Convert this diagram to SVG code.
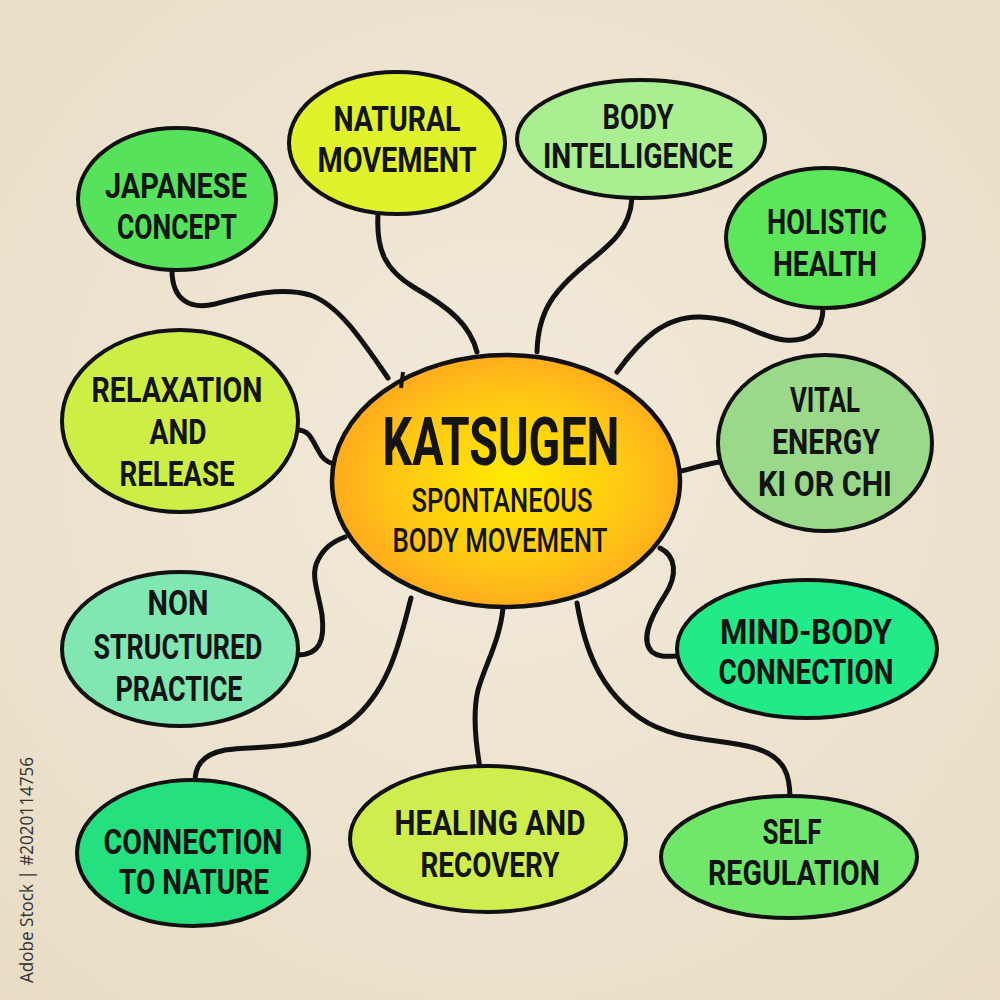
<svg xmlns="http://www.w3.org/2000/svg" width="1000" height="1000" viewBox="0 0 1000 1000">
<defs>
<radialGradient id="bg" cx="50%" cy="45%" r="75%">
<stop offset="0" stop-color="#f2eadb"/>
<stop offset="1" stop-color="#e8dcc4"/>
</radialGradient>
<radialGradient id="hub" cx="52%" cy="50%" r="60%">
<stop offset="0" stop-color="#ffec00"/>
<stop offset="0.55" stop-color="#ffc814"/>
<stop offset="1" stop-color="#ff9e22"/>
</radialGradient>
<style>
.n{stroke:#111;stroke-width:4}
.c path{fill:none;stroke:#111;stroke-width:5;stroke-linecap:round}
.t{font-family:"Roboto","Liberation Sans",sans-serif;font-weight:bold;fill:#141414;font-size:35px}
.big{font-size:66px}
.sub{font-size:33px;font-weight:500}
.wm{font-family:"Open Sans","Liberation Sans",sans-serif;fill:#333;font-size:18px}
</style>
</defs>
<rect width="1000" height="1000" fill="url(#bg)"/>
<text class="wm" transform="translate(33,983) rotate(-90)" textLength="226" lengthAdjust="spacingAndGlyphs">Adobe Stock | #2020114756</text>

<g id="connectors" class="c">
<path d="M172,270 C172,300 190,310 215,304 C245,296 280,286 310,295 C340,305 365,345 388,378"/>
<path d="M378,214 C376,250 385,270 415,288 C450,308 470,325 477,352"/>
<path d="M632,198 C630,230 610,245 585,265 C555,290 538,310 537,352"/>
<path d="M823,308 C823,330 810,342 785,340 C760,338 740,318 700,317 C665,316 640,340 617,372"/>
<path d="M297,430 C310,430 312,440 318,450 C322,458 326,462 334,464"/>
<path d="M297,655 C320,655 325,640 322,615 C318,590 310,575 318,560 C324,548 332,542 345,537"/>
<path d="M677,472 C695,468 705,464 720,462"/>
<path d="M660,548 C676,556 678,575 665,595 C650,618 640,640 652,652 C660,658 668,656 678,656"/>
<path d="M411,598 C400,640 390,690 350,722 C310,752 260,745 225,750 C200,755 195,768 195,782"/>
<path d="M503,608 C500,640 485,665 478,690 C472,715 476,745 480,768"/>
<path d="M577,603 C585,650 600,690 640,718 C675,742 720,738 755,748 C785,757 790,775 790,798"/>
</g>

<g id="hub-node">
<ellipse class="n" cx="506" cy="481" rx="174" ry="126" fill="url(#hub)" style="stroke-width:4.5"/>
<path d="M403,372 L401,388" stroke="#111" stroke-width="4" fill="none"/>
<text class="t big" x="501" y="465" text-anchor="middle" textLength="237" lengthAdjust="spacingAndGlyphs">KATSUGEN</text>
<text class="t sub" x="502" y="512" text-anchor="middle" textLength="181" lengthAdjust="spacingAndGlyphs">SPONTANEOUS</text>
<text class="t sub" x="500" y="552" text-anchor="middle" textLength="215" lengthAdjust="spacingAndGlyphs">BODY MOVEMENT</text>
</g>

<g id="japanese-concept">
<ellipse class="n" cx="177" cy="199" rx="99" ry="71" fill="#56e25a"/>
<text class="t" x="176" y="198" text-anchor="middle" textLength="142" lengthAdjust="spacingAndGlyphs">JAPANESE</text>
<text class="t" x="177" y="239" text-anchor="middle" textLength="120" lengthAdjust="spacingAndGlyphs">CONCEPT</text>
</g>

<g id="natural-movement">
<ellipse class="n" cx="397" cy="143" rx="108" ry="71" fill="#e0f22c"/>
<text class="t" x="397" y="131" text-anchor="middle" textLength="127" lengthAdjust="spacingAndGlyphs">NATURAL</text>
<text class="t" x="397" y="172" text-anchor="middle" textLength="159" lengthAdjust="spacingAndGlyphs">MOVEMENT</text>
</g>

<g id="body-intelligence">
<ellipse class="n" cx="641" cy="139" rx="124" ry="59" fill="#aaee92"/>
<text class="t" x="638" y="129" text-anchor="middle" textLength="71" lengthAdjust="spacingAndGlyphs">BODY</text>
<text class="t" x="638" y="168" text-anchor="middle" textLength="190" lengthAdjust="spacingAndGlyphs">INTELLIGENCE</text>
</g>

<g id="holistic-health">
<ellipse class="n" cx="825" cy="238" rx="99" ry="70" fill="#5ce65a"/>
<text class="t" x="827" y="234" text-anchor="middle" textLength="120" lengthAdjust="spacingAndGlyphs">HOLISTIC</text>
<text class="t" x="825" y="276" text-anchor="middle" textLength="104" lengthAdjust="spacingAndGlyphs">HEALTH</text>
</g>

<g id="relaxation-release">
<ellipse class="n" cx="180" cy="421" rx="118" ry="91" fill="#cdef45"/>
<text class="t" x="177" y="402" text-anchor="middle" textLength="171" lengthAdjust="spacingAndGlyphs">RELAXATION</text>
<text class="t" x="178" y="444" text-anchor="middle" textLength="57" lengthAdjust="spacingAndGlyphs">AND</text>
<text class="t" x="177" y="486" text-anchor="middle" textLength="115" lengthAdjust="spacingAndGlyphs">RELEASE</text>
</g>

<g id="vital-energy">
<ellipse class="n" cx="825" cy="443" rx="107" ry="88" fill="#9ad88a"/>
<text class="t" x="825" y="412" text-anchor="middle" textLength="70" lengthAdjust="spacingAndGlyphs">VITAL</text>
<text class="t" x="826" y="454" text-anchor="middle" textLength="108" lengthAdjust="spacingAndGlyphs">ENERGY</text>
<text class="t" x="825" y="496" text-anchor="middle" textLength="134" lengthAdjust="spacingAndGlyphs">KI OR CHI</text>
</g>

<g id="non-structured-practice">
<ellipse class="n" cx="180" cy="649" rx="118" ry="77" fill="#80e6b2"/>
<text class="t" x="178" y="615" text-anchor="middle" textLength="61" lengthAdjust="spacingAndGlyphs">NON</text>
<text class="t" x="178" y="659" text-anchor="middle" textLength="169" lengthAdjust="spacingAndGlyphs">STRUCTURED</text>
<text class="t" x="179" y="701" text-anchor="middle" textLength="127" lengthAdjust="spacingAndGlyphs">PRACTICE</text>
</g>

<g id="mind-body-connection">
<ellipse class="n" cx="807" cy="649" rx="130" ry="69" fill="#22ea88"/>
<text class="t" x="806" y="644" text-anchor="middle" textLength="172" lengthAdjust="spacingAndGlyphs">MIND-BODY</text>
<text class="t" x="806" y="684" text-anchor="middle" textLength="175" lengthAdjust="spacingAndGlyphs">CONNECTION</text>
</g>

<g id="connection-to-nature">
<ellipse class="n" cx="193" cy="853" rx="116" ry="73" fill="#24e07e"/>
<text class="t" x="193" y="854" text-anchor="middle" textLength="179" lengthAdjust="spacingAndGlyphs">CONNECTION</text>
<text class="t" x="194" y="894" text-anchor="middle" textLength="150" lengthAdjust="spacingAndGlyphs">TO NATURE</text>
</g>

<g id="healing-recovery">
<ellipse class="n" cx="488" cy="839" rx="138" ry="73" fill="#cfee4e"/>
<text class="t" x="490" y="835" text-anchor="middle" textLength="191" lengthAdjust="spacingAndGlyphs">HEALING AND</text>
<text class="t" x="490" y="877" text-anchor="middle" textLength="139" lengthAdjust="spacingAndGlyphs">RECOVERY</text>
</g>

<g id="self-regulation">
<ellipse class="n" cx="789" cy="857" rx="128" ry="61" fill="#70e66a"/>
<text class="t" x="792" y="844" text-anchor="middle" textLength="59" lengthAdjust="spacingAndGlyphs">SELF</text>
<text class="t" x="794" y="885" text-anchor="middle" textLength="172" lengthAdjust="spacingAndGlyphs">REGULATION</text>
</g>
</svg>
